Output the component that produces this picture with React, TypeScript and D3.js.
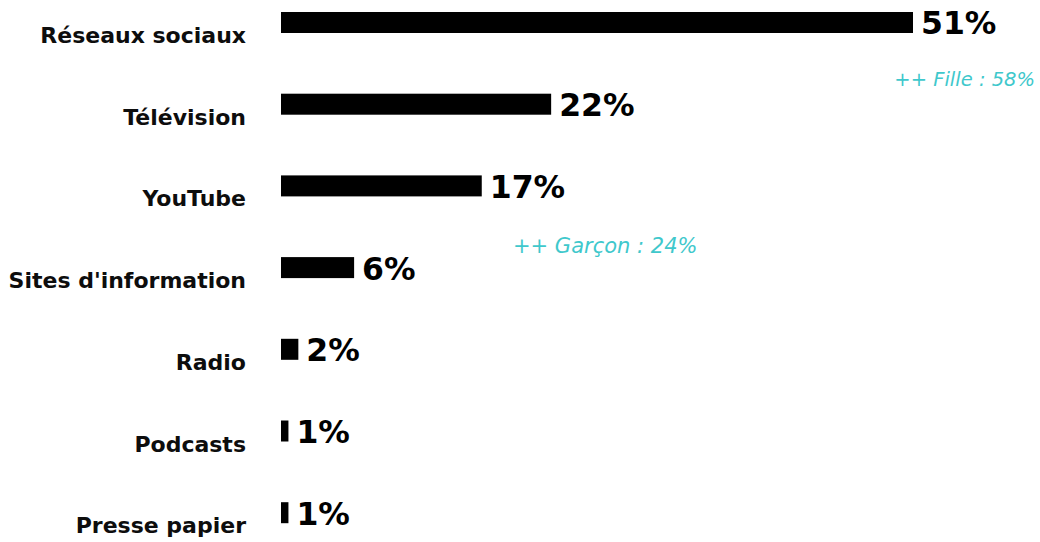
import React from "react";
import * as d3 from "d3";

const categories = [
  "Réseaux sociaux",
  "Télévision",
  "YouTube",
  "Sites d'information",
  "Radio",
  "Podcasts",
  "Presse papier",
];
const values = [51, 21.8, 16.2, 5.9, 1.4, 0.6, 0.6];
const valueLabels = ["51%", "22%", "17%", "6%", "2%", "1%", "1%"];
const notes = [
  { text: "++ Fille : 58%", cat: "Réseaux sociaux" },
  { text: "++ Garçon : 24%", cat: "YouTube" },
];

const W = 1040;
const H = 542;
const FONT = "'DejaVu Sans', sans-serif";
const TEAL = "#3fc8cc";

export default function App() {
  const x = d3.scaleLinear().domain([0, 51]).range([281, 913]);
  const y = d3
    .scaleBand<string>()
    .domain(categories)
    .range([12, 523.2])
    .paddingInner(0.743)
    .paddingOuter(0);
  const bw = y.bandwidth();
  const cy = (c: string) => (y(c) as number) + bw / 2;

  return (
    <div style={{ position: "fixed", left: 0, top: 0, width: W, height: H, background: "#fff" }}>
      <svg width={W} height={H} style={{ display: "block" }}>
        {categories.map((c, i) => (
          <g key={c}>
            <rect x={x(0)} y={y(c)} width={x(values[i]) - x(0)} height={bw} fill="#000" />
            <text
              x={x(values[i]) + 8}
              y={cy(c) + 12}
              fontFamily={FONT}
              fontWeight="bold"
              fontSize={31.5}
              fill="#000"
            >
              {valueLabels[i]}
            </text>
            <text
              x={246}
              y={cy(c) + 20.5}
              textAnchor="end"
              fontFamily={FONT}
              fontWeight="bold"
              fontSize={22}
              fill="#0d0d0d"
            >
              {c}
            </text>
          </g>
        ))}
        <text
          x={1035}
          y={cy(notes[0].cat) + 63.5}
          textAnchor="end"
          fontFamily={FONT}
          fontStyle="italic"
          fontSize={19.5}
          fill={TEAL}
        >
          {notes[0].text}
        </text>
        <text
          x={513}
          y={cy(notes[1].cat) + 67}
          textAnchor="start"
          fontFamily={FONT}
          fontStyle="italic"
          fontSize={21}
          fill={TEAL}
        >
          {notes[1].text}
        </text>
      </svg>
    </div>
  );
}
